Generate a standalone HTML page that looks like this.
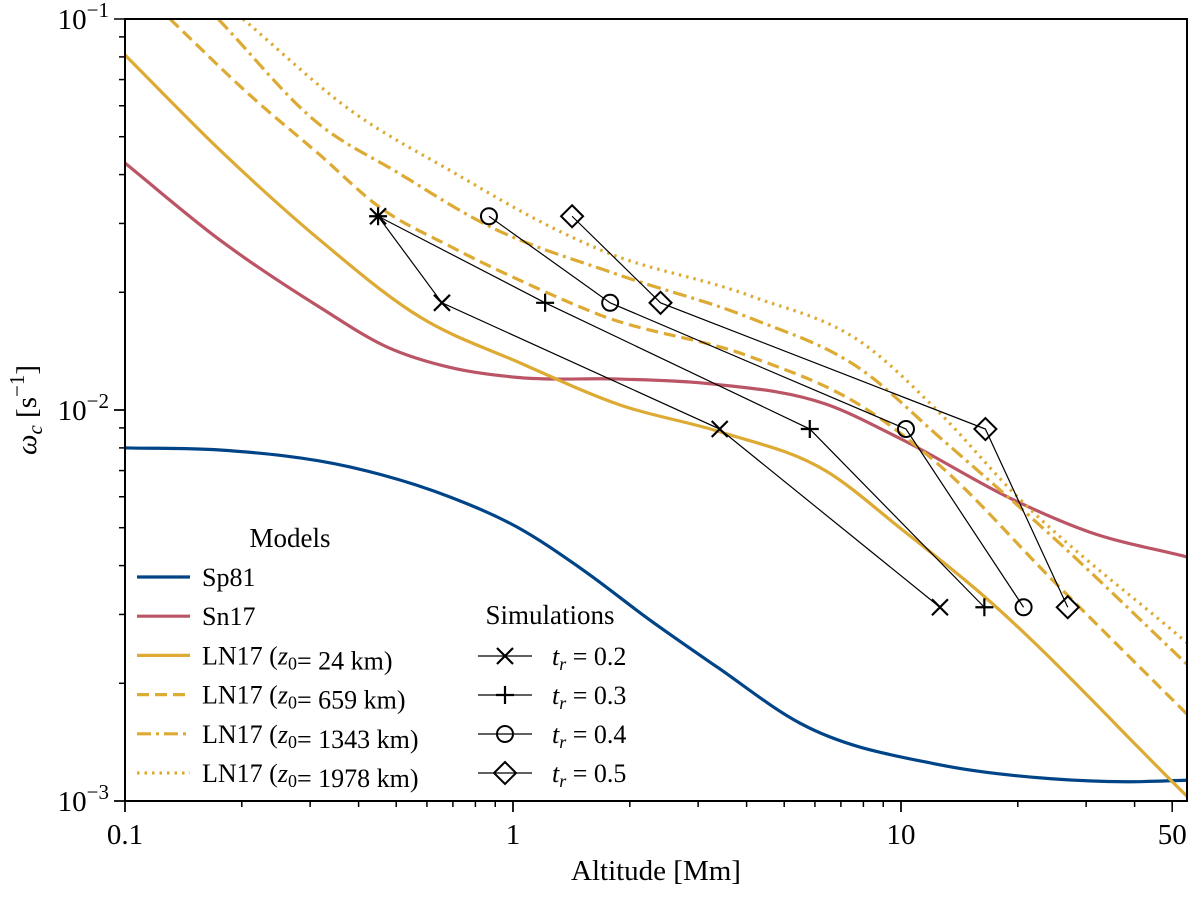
<!DOCTYPE html>
<html><head><meta charset="utf-8"><style>
body{margin:0;background:#fff}
svg{font-family:"Liberation Serif","DejaVu Serif",serif}
</style></head><body>
<svg id="c" width="1200" height="892" viewBox="0 0 1200 892"></svg>
<script>
const xTickVals=[0.1,1,10,50];
const xTickLabels=["0.1","1","10","50"];
const altSp81=[0.1,0.1757,0.380,0.688,1.024,1.514,2.256,3.36,5.50,12.45,24.4,38,54.5];
const wSp81=[0.0080,0.0079,0.00715,0.00599,0.00502,0.0039,0.0029,0.0022,0.00158,0.00124,0.00114,0.00112,0.00113];
const altSn17=[0.1,0.1757,0.318,0.473,0.700,1.042,1.888,3.28,6.41,10,19.5,30.5,54.5];
const wSn17=[0.0428,0.0272,0.0183,0.0145,0.0128,0.0121,0.0120,0.01165,0.01035,0.00843,0.00589,0.00488,0.00421];
const altLN24=[0.1,0.1757,0.318,0.575,1.042,1.888,3.42,6.41,10,15.6,54.5];
const wLN24=[0.0809,0.0462,0.0272,0.0173,0.0132,0.0103,0.00879,0.00698,0.00497,0.00348,0.00103];
const altLN659=[0.1306,0.2138,0.318,0.446,0.700,1.153,1.676,4.08,7.98,12.45,24.4,54.5];
const wLN659=[0.1,0.0628,0.0449,0.0334,0.0260,0.0205,0.0175,0.0137,0.01018,0.00728,0.0037,0.00167];
const altLN1343=[0.1738,0.318,0.502,0.857,1.888,4.08,7.98,12.45,24.4,54.5];
const wLN1343=[0.1,0.0536,0.0406,0.0297,0.0221,0.0172,0.0126,0.00859,0.00477,0.00224];
const altLN1978=[0.2014,0.387,0.700,1.268,1.676,4.08,7.98,12.45,19.5,54.5];
const wLN1978=[0.1,0.0578,0.0406,0.0292,0.0257,0.0196,0.0148,0.00993,0.00614,0.00254];
const simW=[0.0313,0.0188,0.00894,0.00313];
const simAlt02=[0.449,0.656,3.41,12.6];
const simAlt03=[0.449,1.21,5.82,16.4];
const simAlt04=[0.867,1.78,10.3,20.7];
const simAlt05=[1.42,2.40,16.5,26.9];

const L=125,R=1187,T=19,B=801,XD=388,YD=391;
const X=v=>L+(Math.log10(v)+1)*XD;
const Y=v=>T+(-1-Math.log10(v))*YD;
const NS="http://www.w3.org/2000/svg";
const svg=document.getElementById('c');
function mk(t,a,p){const e=document.createElementNS(NS,t);for(const k in a)e.setAttribute(k,a[k]);(p||svg).appendChild(e);return e;}
const defs=mk('defs',{});
const cp=mk('clipPath',{id:'pc'},defs);mk('rect',{x:L,y:T,width:R-L,height:B-T},cp);
const plot=mk('g',{'clip-path':'url(#pc)'});



function smooth(xs,ys){
  const p=xs.map((x,i)=>[X(x),Y(ys[i])]);
  const n=p.length,s=[],m=[];
  for(let i=0;i<n-1;i++)s.push((p[i+1][1]-p[i][1])/(p[i+1][0]-p[i][0]));
  for(let i=0;i<n;i++){
    if(i===0)m.push(s[0]);else if(i===n-1)m.push(s[n-2]);
    else{const h0=p[i][0]-p[i-1][0],h1=p[i+1][0]-p[i][0];m.push((s[i-1]*h1+s[i]*h0)/(h0+h1));}
  }
  let d='M'+p[0][0]+','+p[0][1];
  for(let i=0;i<n-1;i++){
    const h=(p[i+1][0]-p[i][0])/3;
    d+=' C'+(p[i][0]+h)+','+(p[i][1]+m[i]*h)+' '+(p[i+1][0]-h)+','+(p[i+1][1]-m[i+1]*h)+' '+p[i+1][0]+','+p[i+1][1];
  }
  return d;
}
const BLUE='#004488',RED='#bb5566',GOLD='#ddaa33';
const curves=[
 [altSp81,wSp81,BLUE,'','curve-sp81'],
 [altSn17,wSn17,RED,'','curve-sn17'],
 [altLN24,wLN24,GOLD,'','curve-ln17-24km'],
 [altLN659,wLN659,GOLD,'12,6','curve-ln17-659km'],
 [altLN1343,wLN1343,GOLD,'14,5,3,5','curve-ln17-1343km'],
 [altLN1978,wLN1978,GOLD,'2.5,5','curve-ln17-1978km']];
curves.forEach(c=>{
  const e=mk('path',{d:smooth(c[0],c[1]),fill:'none',stroke:c[2],'stroke-width':3.2,'stroke-dasharray':c[3]},plot);
  
  
});
function marker(g,type,x,y){
  if(type==='x'){mk('path',{d:`M${x-8},${y-8}L${x+8},${y+8}M${x-8},${y+8}L${x+8},${y-8}`,stroke:'#000','stroke-width':2.2,fill:'none'},g);}
  else if(type==='+'){mk('path',{d:`M${x-9},${y}L${x+9},${y}M${x},${y-9}L${x},${y+9}`,stroke:'#000','stroke-width':2.2,fill:'none'},g);}
  else if(type==='o'){mk('circle',{cx:x,cy:y,r:8,fill:'none',stroke:'#000','stroke-width':2},g);}
  else {mk('path',{d:`M${x},${y-11}L${x+11},${y}L${x},${y+11}L${x-11},${y}Z`,fill:'none',stroke:'#000','stroke-width':2},g);}
}
const sims=[[simAlt02,'x','sim-tr-0.2'],[simAlt03,'+','sim-tr-0.3'],[simAlt04,'o','sim-tr-0.4'],[simAlt05,'d','sim-tr-0.5']];
sims.forEach(s=>{
  const g=mk('g',{},plot);
  
  
  mk('polyline',{points:s[0].map((a,i)=>X(a)+','+Y(simW[i])).join(' '),fill:'none',stroke:'#000','stroke-width':1.2},g);
  s[0].forEach((a,i)=>marker(g,s[1],X(a),Y(simW[i])));
});
const fr=mk('rect',{x:L,y:T,width:R-L,height:B-T,fill:'none',stroke:'#000','stroke-width':2});


const xa=mk('g',{});
for(let d=-1;d<=1;d++)for(let m=1;m<=9;m++){const v=m*Math.pow(10,d);if(v>55)continue;const x=X(v);
  mk('line',{x1:x,x2:x,y1:B,y2:B+(m===1?11:6),stroke:'#000','stroke-width':1.5},xa);}
xTickVals.forEach((v,i)=>{const x=X(v);mk('line',{x1:x,x2:x,y1:B,y2:B+11,stroke:'#000','stroke-width':1.5},xa);
  const t=mk('text',{x:x,y:B+43,'font-size':29,'text-anchor':'middle'},xa);t.textContent=xTickLabels[i];});
const xt=mk('text',{x:656,y:880,'font-size':29,'text-anchor':'middle'});xt.textContent='Altitude [Mm]';

const ya=mk('g',{});
for(let d=-3;d<=-2;d++)for(let m=1;m<=9;m++){const y=Y(m*Math.pow(10,d));mk('line',{x1:L,x2:L-(m===1?11:6),y1:y,y2:y,stroke:'#000','stroke-width':1.5},ya);}
[-1,-2,-3].forEach(e=>{const y=Y(Math.pow(10,e));mk('line',{x1:L,x2:L-11,y1:y,y2:y,stroke:'#000','stroke-width':1.5},ya);
  const t=mk('text',{x:L-16,y:y+10,'font-size':29,'text-anchor':'end'},ya);
  t.innerHTML='10<tspan dy="-12" font-size="21">\u2212'+(-e)+'</tspan>';});
const yt=mk('text',{transform:'translate(36,410) rotate(-90)','font-size':29,'text-anchor':'middle'});
yt.innerHTML='<tspan font-style="italic">ω</tspan><tspan font-style="italic" font-size="21" dy="6">c</tspan><tspan dy="-6"> [s</tspan><tspan dy="-12" font-size="21">\u22121</tspan><tspan dy="12">]</tspan>';

const lg=mk('g',{});
let t=mk('text',{x:290,y:547,'font-size':27,'text-anchor':'middle'},lg);t.textContent='Models';
const labs=['Sp81','Sn17','LN17 (<i>z</i>₀= 24 km)','LN17 (<i>z</i>₀= 659 km)','LN17 (<i>z</i>₀= 1343 km)','LN17 (<i>z</i>₀= 1978 km)'];
curves.forEach((c,i)=>{const y=577+39.2*i;const e=mk('g',{},lg);
  
  
  mk('line',{x1:137,x2:190,y1:y,y2:y,stroke:c[2],'stroke-width':3.2,'stroke-dasharray':c[3]},e);
  const tx=mk('text',{x:202,y:y+9,'font-size':26},e);
  tx.innerHTML=labs[i].replace('<i>z</i>₀','<tspan font-style="italic">z</tspan><tspan font-size="18" dy="5">0</tspan><tspan dy="-5"></tspan>');});
const sg=mk('g',{});
t=mk('text',{x:550,y:624,'font-size':27,'text-anchor':'middle'},sg);t.textContent='Simulations';
['0.2','0.3','0.4','0.5'].forEach((v,i)=>{const y=656+39*i;const e=mk('g',{},sg);
  
  
  mk('line',{x1:478,x2:532,y1:y,y2:y,stroke:'#000','stroke-width':1.2},e);
  marker(e,sims[i][1],505,y);
  const tx=mk('text',{x:552,y:y+9,'font-size':26},e);
  tx.innerHTML='<tspan font-style="italic">t</tspan><tspan font-style="italic" font-size="18" dy="5">r</tspan><tspan dy="-5"> = '+v+'</tspan>';});
</script>
</body></html>
